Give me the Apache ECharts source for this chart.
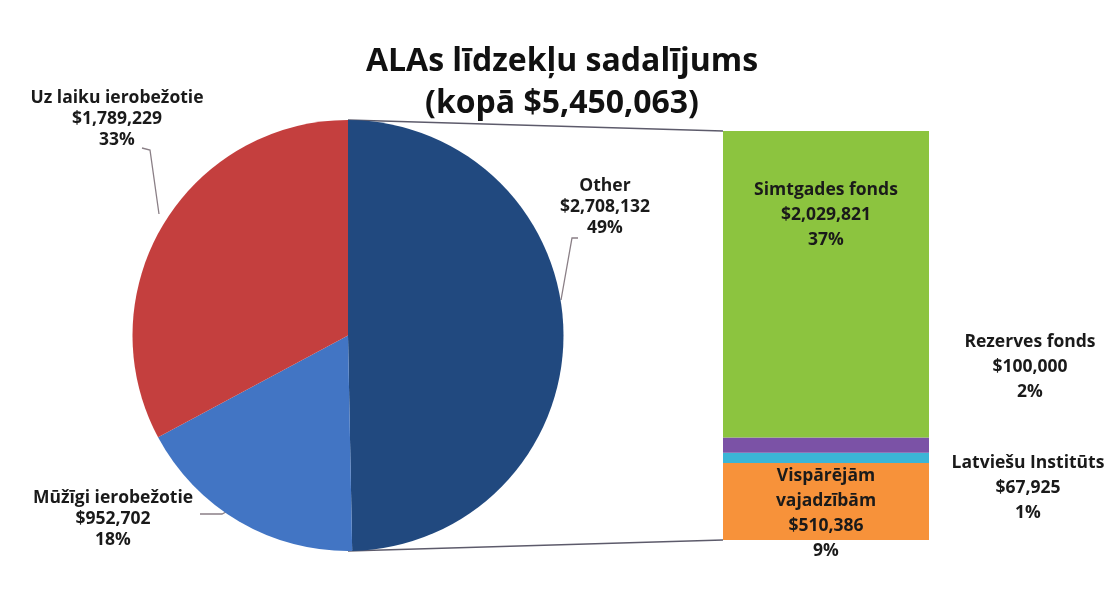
<!DOCTYPE html>
<html>
<head>
<meta charset="utf-8">
<script src="https://cdn.jsdelivr.net/npm/echarts@6/dist/echarts.min.js"></script>
<style>
html,body{margin:0;padding:0;background:#fff;}
#chart{width:1104px;height:614px;}
</style>
</head>
<body>
<div id="chart"></div>
<script>
// ---- data ----
const titleLines = ['ALAs līdzekļu sadalījums', '(kopā $5,450,063)'];
const pieNames = ['Other', 'Mūžīgi ierobežotie', 'Uz laiku ierobežotie'];
const pieValues = [2708132, 952702, 1789229];
const piePercents = ['49%', '18%', '33%'];
const barNames = ['Vispārējām vajadzībām', 'Latviešu Institūts', 'Rezerves fonds', 'Simtgades fonds'];
const barLabelNames = ['Vispārējām\nvajadzībām', 'Latviešu Institūts', 'Rezerves fonds', 'Simtgades fonds'];
const barValues = [510386, 67925, 100000, 2029821];
const barPercents = ['9%', '1%', '2%', '37%'];

// ---- style / layout ----
const pieColors = ['#21497f', '#4275c4', '#c43f3e'];
const barColors = ['#f7923a', '#3bb5d6', '#7b52a6', '#8cc43f'];
const FONT = '"Open Sans", Lato, sans-serif';
const pieCx = 348, pieCy = 335.5, pieR = 215.5;
const barLeft = 723, barTop = 131, barW = 206, barBottom = 540;
const pieLabelPos = [
  {x: 605, y: 207, line: [[578, 238], [572, 238], [561, 300]]},
  {x: 113, y: 519, line: [[200, 514], [222, 514], [226, 512]]},
  {x: 117, y: 119, line: [[142, 148], [150, 150], [159, 214]]}
];
const barLabelPos = [
  {x: 826, y: 514},
  {x: 1028, y: 488},
  {x: 1030, y: 367},
  {x: 826, y: 215}
];

const money = v => '$' + v.toLocaleString('en-US');
const chart = echarts.init(document.getElementById('chart'));
const barTotal = barValues.reduce((a, b) => a + b, 0);

const labelText = {fontFamily: FONT, fontWeight: 'bold', fontSize: 17.5, color: '#1a1a1a', overflow: 'none'};

const barSeries = barValues.map((v, i) => ({
  type: 'bar',
  name: barNames[i],
  stack: 'other',
  data: [v],
  barWidth: '100%',
  itemStyle: {color: barColors[i]},
  label: Object.assign({
    show: true,
    position: 'inside',
    formatter: () => barLabelNames[i] + '\n' + money(v) + '\n' + barPercents[i],
    lineHeight: 25,
    align: 'center'
  }, labelText),
  labelLayout: () => ({x: barLabelPos[i].x, y: barLabelPos[i].y, align: 'center', verticalAlign: 'middle'}),
  silent: true
}));

chart.setOption({
  backgroundColor: '#ffffff',
  animation: false,
  title: {
    text: titleLines.join('\n'),
    left: 557, top: 36, textAlign: 'center',
    textStyle: {fontFamily: FONT, fontWeight: 'bold', fontSize: 32, lineHeight: 42, color: '#111'}
  },
  grid: {left: barLeft, top: barTop, width: barW, height: barBottom - barTop},
  xAxis: {type: 'category', data: ['Other'], show: false},
  yAxis: {type: 'value', min: 0, max: barTotal, show: false},
  series: [
    {
      type: 'pie',
      center: [pieCx, pieCy],
      radius: pieR,
      startAngle: 90,
      clockwise: true,
      silent: true,
      data: pieNames.map((n, i) => ({name: n, value: pieValues[i], itemStyle: {color: pieColors[i]}})),
      label: Object.assign({
        show: true,
        position: 'outside',
        formatter: p => p.name + '\n' + money(p.value) + '\n' + piePercents[p.dataIndex],
        lineHeight: 21,
        align: 'center'
      }, labelText),
      labelLine: {show: true, lineStyle: {color: '#8a7f86', width: 1.3}},
      labelLayout: p => ({
        x: pieLabelPos[p.dataIndex].x, y: pieLabelPos[p.dataIndex].y,
        align: 'center', verticalAlign: 'middle',
        labelLinePoints: pieLabelPos[p.dataIndex].line
      })
    },
    ...barSeries
  ],
  graphic: [
    {type: 'line', shape: {x1: pieCx, y1: pieCy - pieR, x2: barLeft, y2: barTop}, style: {stroke: '#5d5b6b', lineWidth: 1.6}},
    {type: 'line', shape: {x1: pieCx, y1: pieCy + pieR, x2: barLeft, y2: barBottom}, style: {stroke: '#5d5b6b', lineWidth: 1.6}}
  ]
});
</script>
</body>
</html>
